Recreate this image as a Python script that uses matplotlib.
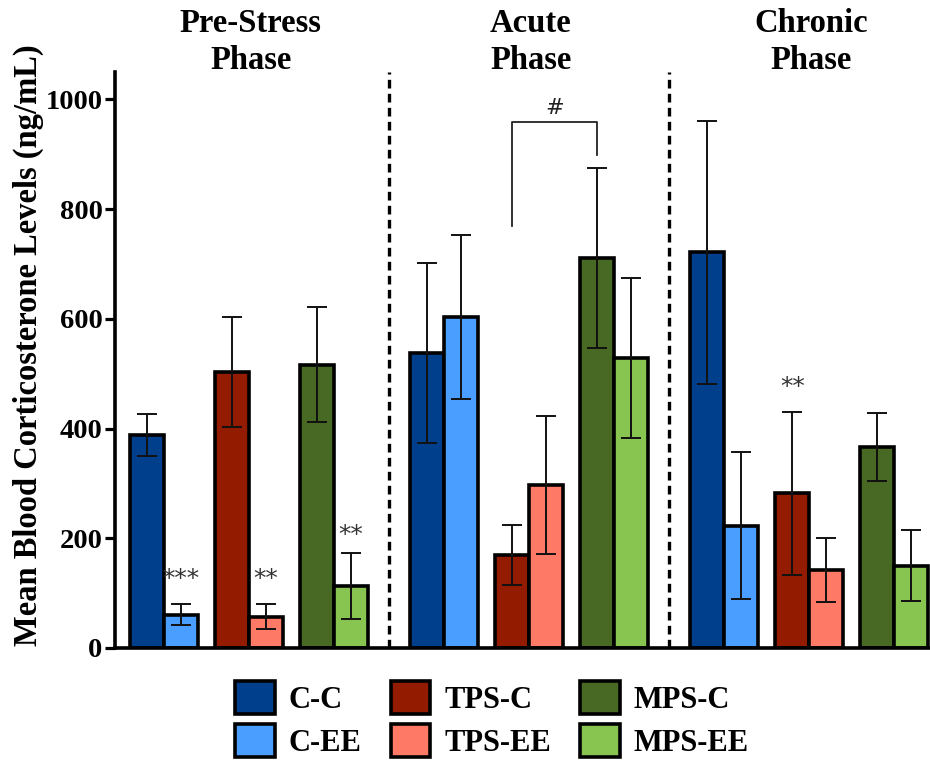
import numpy as np
import matplotlib
matplotlib.use('Agg')
import matplotlib.pyplot as plt
from matplotlib.patches import Patch

plt.rcParams['font.family'] = ['Liberation Serif', 'DejaVu Serif']

# values
phases = ['Pre-Stress\nPhase', 'Acute\nPhase', 'Chronic\nPhase']
groups = ['C-C', 'C-EE', 'TPS-C', 'TPS-EE', 'MPS-C', 'MPS-EE']
colors = ['#003f8c', '#4a9eff', '#931c00', '#ff7a66', '#486923', '#88c450']

cc_mean = [388, 537, 721]
cee_mean = [61, 603, 223]
tpsc_mean = [503, 170, 282]
tpsee_mean = [57, 297, 142]
mpsc_mean = [516, 711, 367]
mpsee_mean = [113, 529, 150]

cc_sem = [38, 164, 240]
cee_sem = [20, 149, 134]
tpsc_sem = [101, 55, 149]
tpsee_sem = [23, 125, 58]
mpsc_sem = [105, 164, 62]
mpsee_sem = [61, 146, 65]

means = [cc_mean, cee_mean, tpsc_mean, tpsee_mean, mpsc_mean, mpsee_mean]
sems = [cc_sem, cee_sem, tpsc_sem, tpsee_sem, mpsc_sem, mpsee_sem]

# significance marks: (phase, group, label, y)
stars = [(0, 1, '***', 126), (0, 3, '**', 126), (0, 5, '**', 206), (2, 2, '**', 476)]

bar_offsets = [0, 1, 2.5, 3.5, 5, 6]
phase_step = 8.24

fig = plt.figure(figsize=(9.3, 7.61), dpi=100)
ax = fig.add_axes([0.1237, 0.1485, 0.8763, 0.757])

def xpos(p, g):
    return p * phase_step + bar_offsets[g] + 0.5

for g in range(len(groups)):
    xs = [xpos(p, g) for p in range(len(phases))]
    ax.bar(xs, means[g], width=1.0, color=colors[g], edgecolor='black',
           linewidth=2.6, zorder=2)
    ax.errorbar(xs, means[g], yerr=sems[g], fmt='none', ecolor='#111111',
                elinewidth=1.4, capsize=7.5, capthick=1.4, zorder=3)

for p, g, lab, y in stars:
    ax.text(xpos(p, g), y, lab, ha='center', va='center', fontsize=18,
            color='#333333', family='DejaVu Sans')

# bracket between TPS-C and MPS-C in the acute phase
bx1, bx2 = xpos(1, 2), xpos(1, 4)
ax.plot([bx1, bx1, bx2, bx2], [770, 958, 958, 898], color='#222222',
        lw=1.3, zorder=3, clip_on=False)
ax.text((bx1 + bx2) / 2, 985, '#', ha='center', va='center', fontsize=16,
        color='#222222', family='DejaVu Sans')

# dashed phase separators
for p in range(1, len(phases)):
    sx = p * phase_step - (phase_step - 7) / 2
    ax.axvline(sx, color='black', lw=2.4, ls=(0, (2.6, 1.6)), zorder=1)

for p, name in enumerate(phases):
    cx = p * phase_step + 3.55
    ax.text(cx, 1.0 - 0.007, name, transform=ax.get_xaxis_transform(),
            ha='center', va='bottom', fontsize=23.5, fontweight='bold',
            linespacing=1.25)

ax.set_xlim(-0.44, 23.53)
ax.set_ylim(0, 1050)
ax.set_yticks([0, 200, 400, 600, 800, 1000])
ax.set_xticks([])
for lab in ax.get_yticklabels():
    lab.set_fontweight('bold')
ax.tick_params(axis='y', labelsize=20.5, length=7, width=2.3, pad=2)
for s in ['top', 'right']:
    ax.spines[s].set_visible(False)
for s in ['left', 'bottom']:
    ax.spines[s].set_linewidth(2.6)

fig.text(0.031, 0.546, 'Mean Blood Corticosterone Levels (ng/mL)', rotation=90,
         ha='center', va='center', fontsize=23.5, fontweight='bold')

handles = [Patch(facecolor=c, edgecolor='black', linewidth=2.6) for c in colors]
fig.legend(handles, groups, ncol=3, loc='center', bbox_to_anchor=(0.529, 0.055),
           frameon=False, prop={'weight': 'bold', 'size': 22},
           handlelength=1.3, handleheight=1.3, handletextpad=0.45,
           columnspacing=0.95, labelspacing=0.3)

fig.savefig('out.png', dpi=100)
